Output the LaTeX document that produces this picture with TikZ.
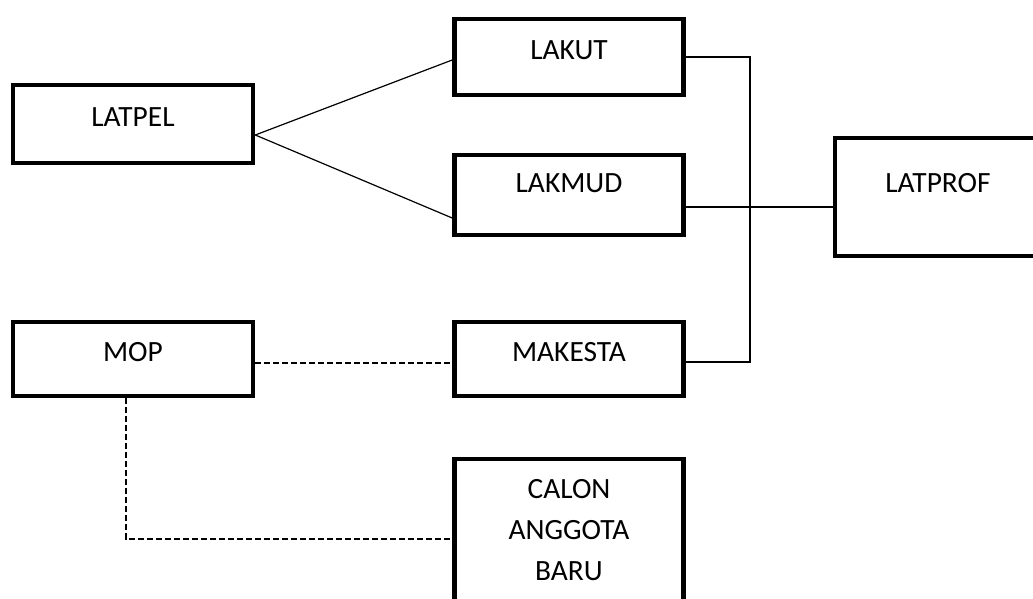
\documentclass[tikz,border=0pt]{standalone}
\usepackage{fontspec}
\setmainfont{Carlito}

\begin{document}
\begin{tikzpicture}[x=1pt,y=-1pt,
		box/.style={draw, line width=4.6pt, inner sep=0pt, font=\fontsize{29.4}{41}\selectfont},
		lift/.style={text height=19pt, text depth=#1},
		lift/.default=15pt,
		link/.style={line width=1.2pt},
		dashlink/.style={line width=1.4pt, dash pattern=on 6pt off 3pt}]
			\useasboundingbox (0,0) rectangle (1033,598);

			% Left column
			\node[box, lift, minimum width=240pt, minimum height=78pt] (latpel) at (133,124) {LATPEL};
			\node[box, lift, minimum width=240pt, minimum height=74pt] (mop) at (133,359) {MOP};

			% Middle column
			\node[box, lift, minimum width=229pt, minimum height=76pt] (lakut) at (569,57) {LAKUT};
			\node[box, lift=24pt, minimum width=229pt, minimum height=80pt] (lakmud) at (569,195) {LAKMUD};
			\node[box, lift, minimum width=229pt, minimum height=74pt] (makesta) at (569,359) {MAKESTA};
			\node[box, text height=101pt, text depth=19pt, align=center, minimum width=229pt, minimum height=160pt] (calon) at (569,539)
				{CALON\\ANGGOTA\\BARU};

			% Right
			\node[box, lift=28pt, minimum width=206pt, minimum height=118pt] (latprof) at (938,197) {LATPROF};
			\coordinate (bus) at (750,200);

			% Solid links
			\draw[link] ([yshift=-11pt]latpel.east) -- ([yshift=-3pt]lakut.west);
			\draw[link] ([yshift=-11pt]latpel.east) -- ([yshift=-23pt]lakmud.west);
			\draw[link] (lakut.east) -| (bus) |- ([yshift=-3pt]makesta.east);
			\draw[link] ([yshift=-12pt]lakmud.east) -- ([yshift=-12pt]lakmud.east -| latprof.west);

			% Dashed links
			\draw[dashlink] ([yshift=-4pt]mop.east) -- ([yshift=-4pt]mop.east -| makesta.west);
			\draw[dashlink] ([xshift=-7pt]mop.south) |- (calon.west);
		\end{tikzpicture}
\end{document}
